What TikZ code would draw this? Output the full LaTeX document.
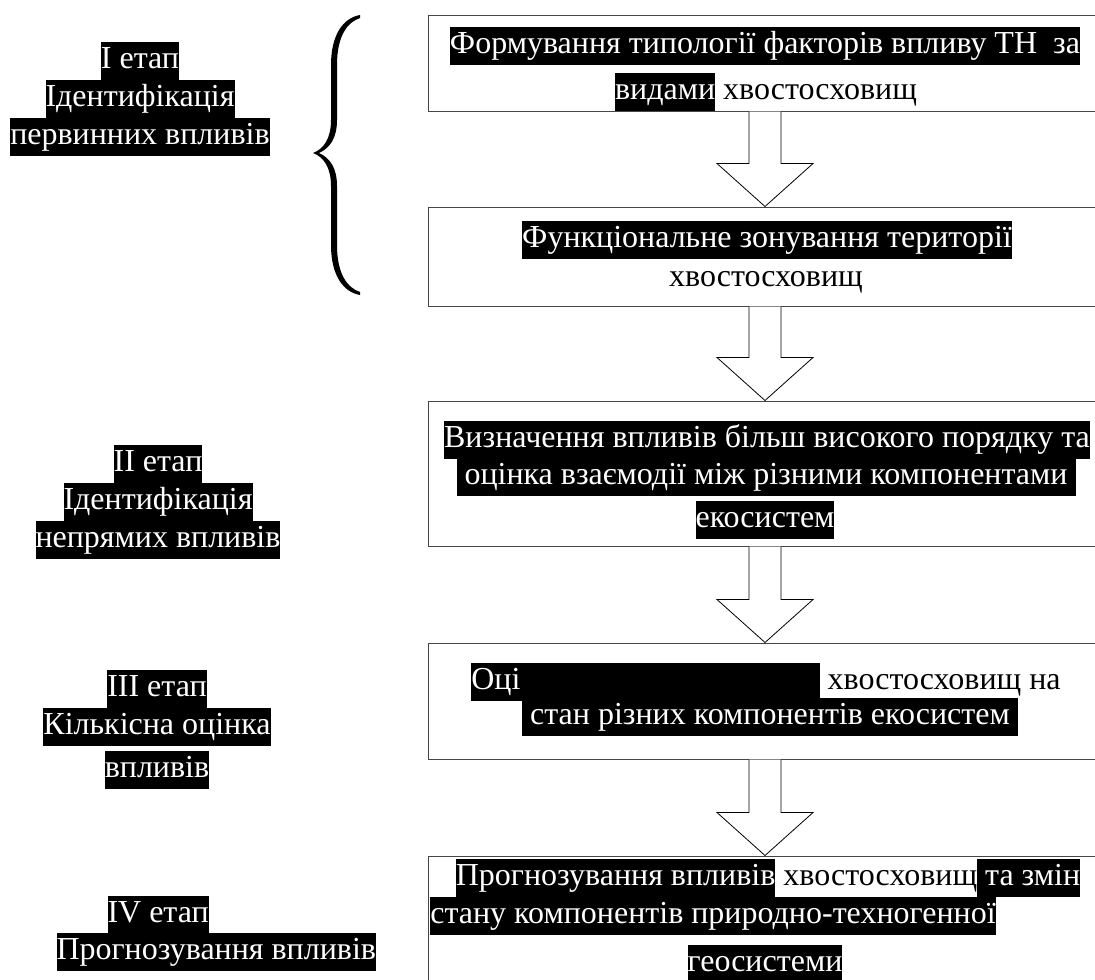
\documentclass[tikz,border=0pt]{standalone}
\usepackage{fontspec}
\setmainfont{Liberation Serif}
\usetikzlibrary{calc}
\setlength{\fboxsep}{0pt}
\newcommand{\hlw}[1]{\colorbox{black}{\textcolor{white}{\strut #1}}}

\tikzset{every picture/.style={line width=0.75pt}}
\tikzset{
  stagebox/.style={draw={rgb, 255:red, 70; green, 70; blue, 70}, fill=white, inner sep=0pt},
  lbl/.style={inner sep=0pt, font=\fontsize{24}{28.5}\selectfont},
  blockarrow/.style={draw, fill=white, line width=0.6pt}
}

\begin{document}
\begin{tikzpicture}[x=0.75pt,y=0.75pt,yscale=-1]
\useasboundingbox (0,0) rectangle (1095,979);
%Shape: Rectangle [id:b1]
\node[stagebox, minimum width=505.5pt, minimum height=72pt] (b1) at (765,63) {};
%Shape: Rectangle [id:b2]
\node[stagebox, minimum width=505.5pt, minimum height=74.25pt] (b2) at (765,256.5) {};
%Shape: Rectangle [id:b3]
\node[stagebox, minimum width=505.5pt, minimum height=108.75pt] (b3) at (765,473.5) {};
%Shape: Rectangle [id:b4]
\node[stagebox, minimum width=505.5pt, minimum height=87pt] (b4) at (765,701) {};
%Shape: Rectangle [id:b5]
\node[stagebox, minimum width=505.5pt, minimum height=112.5pt] (b5) at (765,931) {};

%Down Arrows
\foreach \a/\b in {b1/b2,b2/b3,b3/b4,b4/b5}
  \draw[blockarrow] ($(\a.south)+(-16,0)$) -- ($(\b.north)+(-16,-43)$) -- ($(\b.north)+(-48,-43)$) -- (\b.north) -- ($(\b.north)+(48,-43)$) -- ($(\b.north)+(16,-43)$) -- ($(\a.south)+(16,0)$) ;

%Shape: Brace [id:br1]
\fill (360,15) .. controls (343,18) and (331,35) .. (331,65) -- (331,120) .. controls (331,138) and (324,149) .. (313,153) .. controls (324,157) and (331,168) .. (331,186) -- (331,245) .. controls (331,275) and (343,292) .. (360,295) -- (360,292) .. controls (348,288) and (337,275) .. (337,245) -- (337,186) .. controls (337,168) and (330,158) .. (319,153) .. controls (330,148) and (337,138) .. (337,120) -- (337,65) .. controls (337,35) and (348,22) .. (360,18) -- cycle ;

% Text Node
\node[lbl] (s1a) at (140,61) {\hlw{I етап}};
% Text Node
\node[lbl] (s1b) at (140,99) {\hlw{Ідентифікація}};
% Text Node
\node[lbl] (s1c) at (140,137) {\hlw{первинних впливів}};
% Text Node
\node[lbl] (s2a) at (158,464) {\hlw{II етап}};
% Text Node
\node[lbl] (s2b) at (158,502) {\hlw{Ідентифікація}};
% Text Node
\node[lbl] (s2c) at (158,540) {\hlw{непрямих впливів}};
% Text Node
\node[lbl] (s3a) at (157,689) {\hlw{III етап}};
% Text Node
\node[lbl] (s3b) at (157,727) {\hlw{Кількісна оцінка}};
% Text Node
\node[lbl] (s3c) at (157,770) {\hlw{впливів}};
% Text Node
\node[lbl, anchor=west] (s4a) at (107,915) {\hlw{IV етап}};
% Text Node
\node[lbl, anchor=west] (s4b) at (56,952) {\hlw{Прогнозування впливів}};

% Text Node
\node[lbl] (t1a) at (765,46) {\hlw{Формування типології факторів впливу ТН\ \ за}};
% Text Node
\node[lbl] (t1b) at (766,92) {\hlw{видами} хвостосховищ};
% Text Node
\node[lbl] (t2a) at (767,240) {\hlw{Функціональне зонування території}};
% Text Node
\node[lbl] (t2b) at (766,282) {хвостосховищ};
% Text Node
\node[lbl] (t3a) at (767,440) {\hlw{Визначення впливів більш високого порядку та}};
% Text Node
\node[lbl] (t3b) at (766,477) {\hlw{ оцінка взаємодії між різними компонентами }};
% Text Node
\node[lbl] (t3c) at (765,520) {\hlw{екосистем}};
% Text Node
\node[lbl] (t4a) at (766,682) {\hlw{Оці\phantom{нка впливу діяльності}} хвостосховищ на};
% Text Node
\node[lbl] (t4b) at (770,717) {\hlw{ стан різних компонентів екосистем }};
% Text Node
\node[lbl] (t5a) at (768,878) {\hlw{Прогнозування впливів} хвостосховищ\hlw{ та змін}};
% Text Node
\node[lbl] (t5b) at (713,916) {\hlw{стану компонентів природно-техногенної}};
% Text Node
\node[lbl] (t5c) at (765,964) {\hlw{геосистеми}};
\end{tikzpicture}
\end{document}
